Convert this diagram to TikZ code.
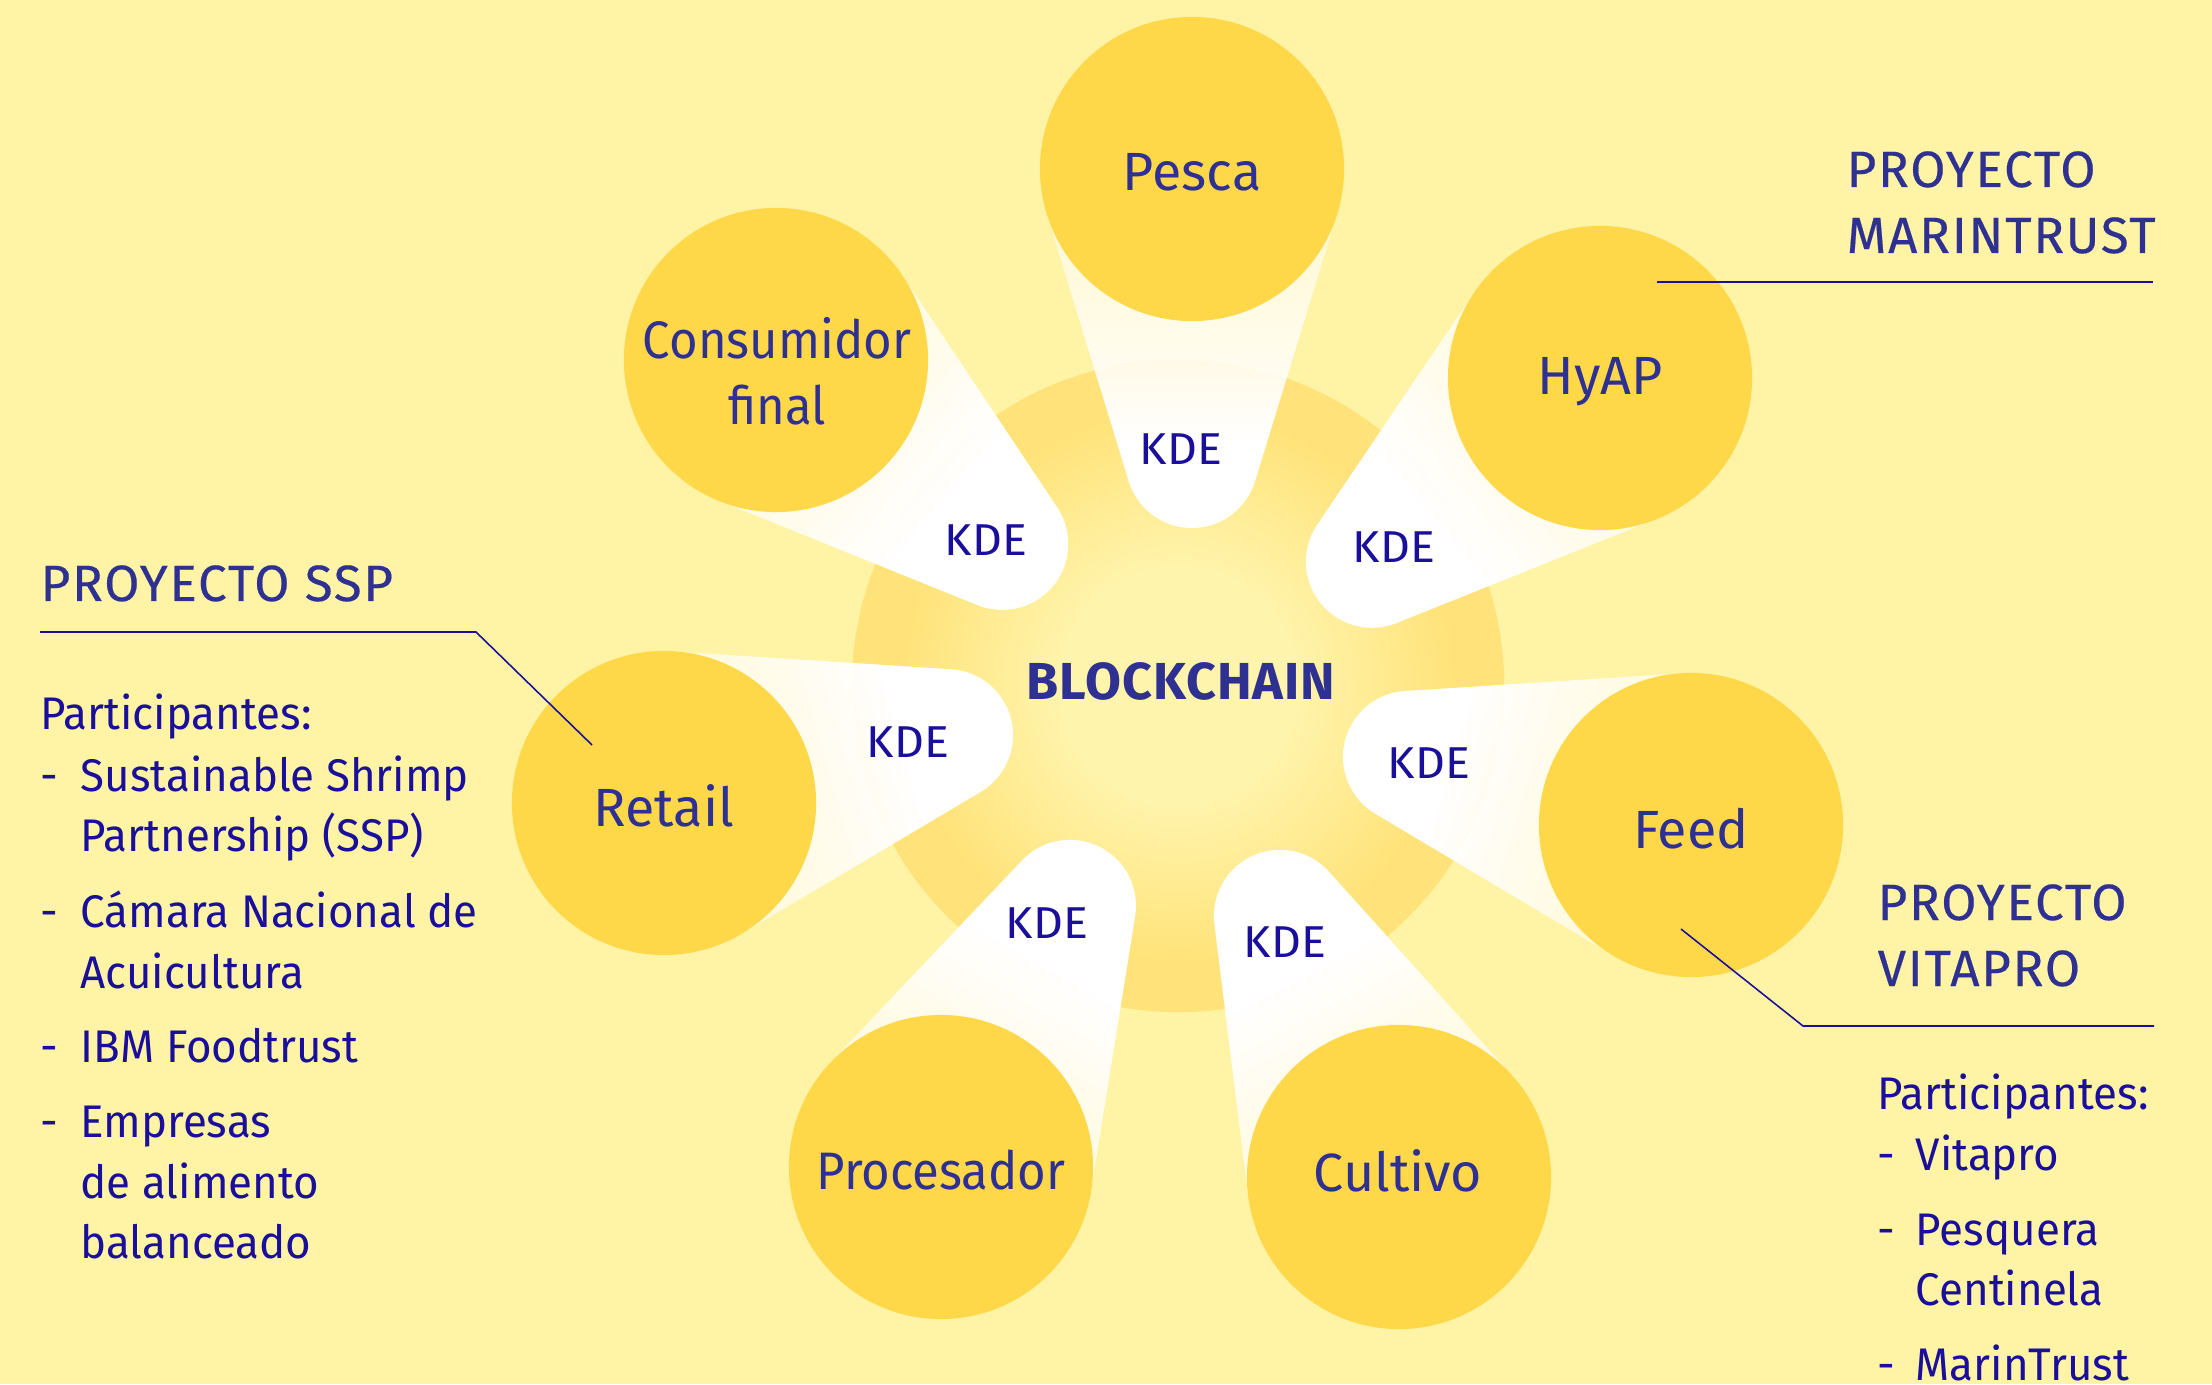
\documentclass[tikz,border=0pt]{standalone}
\usepackage{fontspec}
\setmainfont{Fira Sans}
\newfontfamily\nodefont{Fira Sans}[FakeStretch=0.93]
\newfontfamily\listfont{Fira Sans}[FakeStretch=0.96]
\newfontfamily\headfont{Fira Sans}[FakeBold=0.35, LetterSpace=3.5]
\newfontfamily\chainfont{Fira Sans}[LetterSpace=2]
\newfontfamily\kdefont{Fira Sans}[FakeStretch=1.04]
\usetikzlibrary{fadings}
\definecolor{bg}{HTML}{FFF3A6}
\definecolor{nodey}{HTML}{FFD84A}
\definecolor{cedge}{HTML}{FFE37A}
\definecolor{ccent}{HTML}{FFF4AC}
\definecolor{navy}{HTML}{2E3192}
\definecolor{ink}{HTML}{1A0F9B}
\pgfdeclareradialshading{blockshade}{\pgfpoint{0bp}{0bp}}{color(0bp)=(ccent); color(9bp)=(ccent); color(21bp)=(cedge); color(25bp)=(cedge); color(50bp)=(cedge)}
\begin{tikzfadingfrompicture}[name=beamfade]
  \fill[transparent!0] (-150bp,-150bp) rectangle (-9bp,150bp);
  \shade[left color=transparent!0, right color=transparent!85] (-10bp,-150bp) rectangle (48bp,150bp);
  \fill[transparent!85] (47bp,-150bp) rectangle (150bp,150bp);
\end{tikzfadingfrompicture}
\tikzset{
  circ/.style={circle, fill=nodey, minimum size=3.04cm, inner sep=0pt},
  lbl/.style={text=navy, font=\fontsize{15.3}{18.8}\selectfont, align=center, inner sep=0pt},
  lbln/.style={lbl, font=\nodefont\fontsize{15}{18.8}\selectfont},
  kde/.style={text=ink, font=\kdefont\fontsize{12.7}{14}\selectfont, inner sep=0pt},
  head/.style={text=navy, font=\headfont\fontsize{14.5}{18.8}\selectfont, inner sep=0pt, anchor=base west},
  lst/.style={text=ink, font=\listfont\fontsize{13}{17}\selectfont, inner sep=0pt, anchor=base west},
  lead/.style={draw=ink, line width=0.45pt},
}
\begin{document}
\begin{tikzpicture}[x=0.01cm, y=0.01cm]
\fill[bg] (0,0) rectangle (2212,1384);
\useasboundingbox (0,0) rectangle (2212,1384);
% central circle
\node[circle, minimum size=6.52cm, inner sep=0pt, shading=blockshade] (chain) at (1178,698) {};
% beams
\foreach \nx/\ny/\cx/\cy in {1192/1215/1192/922, 776/1024/1002/840, 1600/1006/1372/822, 664/581/947/649, 1691/559/1409/627, 941/217/1070/478, 1399/207/1280/468}{
  \pgfmathsetmacro\bdx{\cx-\nx}
  \pgfmathsetmacro\bdy{\cy-\ny}
  \pgfmathsetmacro\bang{atan2(\bdy,\bdx)}
  \pgfmathsetmacro\bdd{veclen(\bdx,\bdy)}
  \pgfmathsetmacro\bal{acos((152-66)/\bdd)}
  \pgfmathsetmacro\bsa{\bang+\bal}
  \pgfmathsetmacro\bea{\bang-\bal}
  \pgfmathsetmacro\bAx{\nx+152*cos(\bsa)}
  \pgfmathsetmacro\bAy{\ny+152*sin(\bsa)}
  \pgfmathsetmacro\bBx{\cx+66*cos(\bsa)}
  \pgfmathsetmacro\bBy{\cy+66*sin(\bsa)}
  \pgfmathsetmacro\bDx{\nx+152*cos(\bea)}
  \pgfmathsetmacro\bDy{\ny+152*sin(\bea)}
  \pgfmathsetmacro\bfa{\bang-180}
  \fill[white, path fading=beamfade, fading angle=\bfa] (\bAx,\bAy) -- (\bBx,\bBy) arc[start angle=\bsa, end angle=\bea, radius=0.66cm] -- (\bDx,\bDy) -- cycle;
}
% KDE labels
\node[kde] (k1) at (1181,935) {KDE};
\node[kde] (k2) at (986,844) {KDE};
\node[kde] (k3) at (1394,837) {KDE};
\node[kde] (k4) at (908,642) {KDE};
\node[kde] (k5) at (1429,621) {KDE};
\node[kde] (k6) at (1047,461) {KDE};
\node[kde] (k7) at (1285,442) {KDE};
\node[text=navy, font=\chainfont\fontsize{14.8}{18}\selectfont\bfseries, inner sep=0pt] (bc) at (1181,703) {BLOCKCHAIN};
% outer nodes
\node[circ] (pesca) at (1192,1215) {};
\node[circ] (cons) at (776,1024) {};
\node[circ] (hyap) at (1600,1006) {};
\node[circ] (retail) at (664,581) {};
\node[circ] (feed) at (1691,559) {};
\node[circ] (proc) at (941,217) {};
\node[circ] (cult) at (1399,207) {};
\node[lbl] (pescaL) at (1192,1212) {Pesca};
\node[lbln] (consL) at (777,1013) {Consumidor\\final};
\node[lbl] (hyapL) at (1600,1002) {HyAP};
\node[lbl] (retailL) at (664,578) {Retail};
\node[lbl] (feedL) at (1691,555) {Feed};
\node[lbln] (procL) at (941,214) {Procesador};
\node[lbl] (cultL) at (1398,213) {Cultivo};
% SSP block
\node[head] (ssph) at (40,783) {PROYECTO SSP};
\coordinate (sspA) at (40,752);
\coordinate (sspB) at (476,752);
\coordinate (sspC) at (592,639);
\draw[lead] (sspA) -- (sspB) -- (sspC);
\node[lst] (sp0) at (40,655) {Participantes:};
\node[lst] (sd1) at (40,593) {-};
\node[lst] (sp1) at (80,593) {Sustainable Shrimp};
\node[lst] (sp1b) at (80,533) {Partnership (SSP)};
\node[lst] (sd2) at (40,457) {-};
\node[lst] (sp2) at (80,457) {Cámara Nacional de};
\node[lst] (sp2b) at (80,396) {Acuicultura};
\node[lst] (sd3) at (40,322) {-};
\node[lst] (sp3) at (80,322) {IBM Foodtrust};
\node[lst] (sd4) at (40,247) {-};
\node[lst] (sp4) at (80,247) {Empresas};
\node[lst] (sp4b) at (80,186) {de alimento};
\node[lst] (sp4c) at (80,126) {balanceado};
% Marintrust block
\node[head] (mth1) at (1846,1197) {PROYECTO};
\node[head] (mth2) at (1846,1131) {MARINTRUST};
\coordinate (mtA) at (1657,1102);
\coordinate (mtB) at (2153,1102);
\draw[lead] (mtA) -- (mtB);
% Vitapro block
\node[head] (vph1) at (1877,464) {PROYECTO};
\node[head] (vph2) at (1877,398) {VITAPRO};
\coordinate (vpA) at (1681,455);
\coordinate (vpB) at (1803,358);
\coordinate (vpC) at (2154,358);
\draw[lead] (vpA) -- (vpB) -- (vpC);
\node[lst] (vp0) at (1877,275) {Participantes:};
\node[lst] (vd1) at (1877,214) {-};
\node[lst] (vp1) at (1915,214) {Vitapro};
\node[lst] (vd2) at (1877,139) {-};
\node[lst] (vp2) at (1915,139) {Pesquera};
\node[lst] (vp2b) at (1915,79) {Centinela};
\node[lst] (vd3) at (1877,4) {-};
\node[lst] (vp3) at (1915,4) {MarinTrust};
\end{tikzpicture}
\end{document}
